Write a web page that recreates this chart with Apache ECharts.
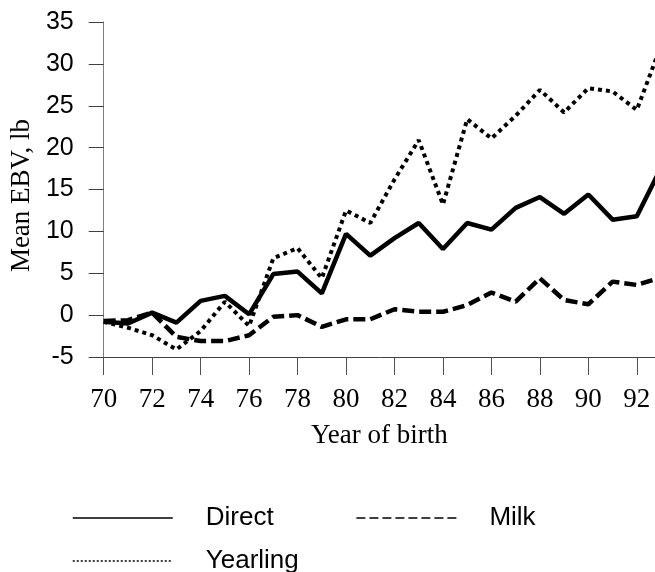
<!DOCTYPE html>
<html>
<head>
<meta charset="utf-8">
<script src="https://cdn.jsdelivr.net/npm/echarts/dist/echarts.min.js"></script>
<style>
    html, body { margin: 0; padding: 0; background: #fff; }
    #chart { width: 655px; height: 572px; }
</style>
</head>
<body>
<div id="chart"></div>
<script>
// year of birth (19xx) and mean EBV, lb
let years = [70, 71, 72, 73, 74, 75, 76, 77, 78, 79, 80, 81, 82, 83, 84, 85, 86, 87, 88, 89, 90, 91, 92, 93];
let direct = [-0.8, -1.0, 0.3, -0.9, 1.7, 2.3, 0.1, 4.9, 5.2, 2.6, 9.7, 7.1, 9.2, 11.0, 7.9, 11.0, 10.2, 12.8, 14.1, 12.1, 14.4, 11.4, 11.8, 17.6];
let milk = [-0.7, -0.6, 0.3, -2.6, -3.1, -3.1, -2.4, -0.2, 0.0, -1.4, -0.5, -0.5, 0.7, 0.4, 0.4, 1.2, 2.7, 1.6, 4.4, 1.8, 1.3, 4.0, 3.6, 4.5];
let yearling = [-0.8, -1.5, -2.4, -4.1, -1.9, 1.6, -1.3, 6.8, 8.0, 4.4, 12.5, 11.0, 16.2, 20.9, 13.2, 23.4, 21.1, 23.8, 26.9, 24.2, 27.1, 26.7, 24.5, 32.2];

function pairs(values) {
    return years.map((y, i) => [y, values[i]]);
}

let serif = '"Liberation Serif", "Times New Roman", serif';
let sans = '"Liberation Sans", Arial, sans-serif';

let chart = echarts.init(document.getElementById('chart'), null, {renderer: 'canvas'});

let legendText = {
    fontFamily: sans,
    fontSize: 26,
    color: '#000',
    padding: [0, 0, 0, 28]
};

// legend shows only the line sample, no marker
let legendBase = {
    left: 72,
    padding: 0,
    itemWidth: 100,
    itemHeight: 14,
    textStyle: legendText,
    lineStyle: {width: 1.5},
    itemStyle: {opacity: 0}
};

chart.setOption({
    animation: false,
    backgroundColor: '#fff',
    grid: {
        left: 100,
        right: 0,
        top: 22,
        bottom: 215
    },
    legend: [
        Object.assign({}, legendBase, {
            top: 505,
            itemGap: 82,
            data: [
                {name: 'Direct'},
                {name: 'Milk', lineStyle: {type: [9, 4]}}
            ]
        }),
        Object.assign({}, legendBase, {
            top: 548,
            data: [
                {name: 'Yearling', lineStyle: {type: [2, 2]}}
            ]
        })
    ],
    xAxis: {
        type: 'value',
        min: 70,
        max: 92.75, // the 1993 point is cut off at the right edge
        interval: 2,
        name: 'Year of birth',
        nameLocation: 'middle',
        nameGap: 65,
        nameTextStyle: {fontFamily: serif, fontSize: 27, color: '#000'},
        splitLine: {show: false},
        axisLine: {onZero: false, lineStyle: {color: '#404040', width: 1}},
        axisTick: {show: true, length: 18, lineStyle: {color: '#505050', width: 1}},
        axisLabel: {
            margin: 29,
            showMaxLabel: false,
            fontFamily: serif,
            fontSize: 27,
            color: '#000'
        }
    },
    yAxis: {
        type: 'value',
        min: -5,
        max: 35,
        interval: 5,
        name: 'Mean EBV, lb',
        nameLocation: 'middle',
        nameGap: 62,
        nameTextStyle: {fontFamily: serif, fontSize: 27, color: '#000', padding: [0, 12, 0, 0]},
        splitLine: {show: false},
        axisLine: {show: true, onZero: false, lineStyle: {color: '#808080', width: 1}},
        axisTick: {show: true, length: 15, lineStyle: {color: '#404040'}},
        axisLabel: {
            margin: 30,
            fontFamily: sans,
            fontSize: 25,
            color: '#000'
        }
    },
    series: [
        {
            name: 'Direct',
            type: 'line',
            symbol: 'none',
            color: '#000',
            lineStyle: {color: '#000', width: 4.5},
            data: pairs(direct)
        },
        {
            name: 'Milk',
            type: 'line',
            symbol: 'none',
            color: '#000',
            lineStyle: {color: '#000', width: 4.5, type: [12, 5]},
            data: pairs(milk)
        },
        {
            name: 'Yearling',
            type: 'line',
            symbol: 'none',
            color: '#000',
            lineStyle: {color: '#000', width: 4, type: [4, 4]},
            data: pairs(yearling)
        }
    ]
});
</script>
</body>
</html>
